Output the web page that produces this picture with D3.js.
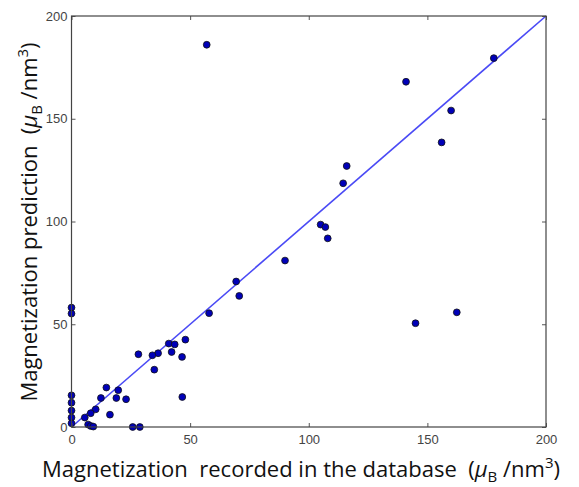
<!DOCTYPE html>
<html>
<head>
<meta charset="utf-8">
<script src="https://cdn.jsdelivr.net/npm/d3@7"></script>
<style>
  body { margin: 0; background: #fff; }
  svg { font-family: "Open Sans", "Liberation Sans", sans-serif; }
  .title { white-space: pre; }
</style>
</head>
<body>
<svg id="chart" width="579" height="487"></svg>
<script>
// 数据：数据库记录值 vs 预测值
const recorded = [
  57, 178, 141, 160, 156, 116, 114.5, 105, 107, 108, 90, 69.4, 70.7,
  58, 145, 162.4,
  48, 41, 43.5, 42.2, 46.6, 46.7, 36.5, 34.1, 34.9, 28.2,
  14.7, 19.7, 12.4, 18.9, 23, 16.2, 10.2, 8.1, 5.6, 7, 8.1, 9.2, 25.8, 28.8,
  0, 0, 0, 0, 0, 0, 0
];
const predicted = [
  186, 179.5, 168, 154, 138.5, 127, 118.6, 98.5, 97.3, 91.8, 81, 70.8, 63.8,
  55.4, 50.5, 55.8,
  42.5, 40.6, 40.2, 36.5, 34.1, 14.6, 35.9, 34.9, 27.9, 35.4,
  19.2, 17.9, 14.1, 14.1, 13.5, 6, 8.6, 6.7, 4.6, 1.2, 0.5, 0.2, 0, 0,
  58.1, 55.2, 15.4, 11.8, 8, 4.6, 1.8
];
const xTicks = [0, 50, 100, 150, 200];
const yTicks = [0, 50, 100, 150, 200];

const svg = d3.select("#chart");
const pLeft = 71.5, pRight = 546, pTop = 16, pBottom = 427;

const x = d3.scaleLinear().domain([0, 200]).range([pLeft, pRight]);
const y = d3.scaleLinear().domain([0, 200]).range([pBottom, pTop]);

// 对角线 y = x
svg.append("line")
  .attr("x1", x(0)).attr("y1", y(0))
  .attr("x2", x(200)).attr("y2", y(200))
  .attr("stroke", "#4a4af5")
  .attr("stroke-width", 1.6);

// 散点
svg.append("g")
  .selectAll("circle")
  .data(recorded.map((v, i) => [v, predicted[i]]))
  .join("circle")
  .attr("cx", d => x(d[0]))
  .attr("cy", d => y(d[1]))
  .attr("r", 3.4)
  .attr("fill", "#0000b8")
  .attr("stroke", "#111")
  .attr("stroke-width", 0.8);

// 坐标轴（刻度朝内，四边都有）
const tickStyle = g => {
  g.select(".domain").remove();
  g.selectAll(".tick line").attr("stroke", "#555");
  g.selectAll(".tick text").attr("fill", "#444").attr("font-size", 13);
};
svg.append("g").attr("transform", `translate(0,${pBottom})`)
  .call(d3.axisBottom(x).tickValues(xTicks).tickSize(-4).tickPadding(8))
  .call(tickStyle);
svg.append("g").attr("transform", `translate(0,${pTop})`)
  .call(d3.axisTop(x).tickValues(xTicks).tickSize(-4).tickFormat(""))
  .call(tickStyle);
svg.append("g").attr("transform", `translate(${pLeft},0)`)
  .call(d3.axisLeft(y).tickValues(yTicks).tickSize(-4).tickPadding(4))
  .call(tickStyle);
svg.append("g").attr("transform", `translate(${pRight},0)`)
  .call(d3.axisRight(y).tickValues(yTicks).tickSize(-4).tickFormat(""))
  .call(tickStyle);

// 边框
svg.append("rect")
  .attr("x", pLeft).attr("y", pTop)
  .attr("width", pRight - pLeft).attr("height", pBottom - pTop)
  .attr("fill", "none")
  .attr("stroke", "#444")
  .attr("stroke-width", 1.2);

// 轴标题
function unitLabel(t, text) {
  t.append("tspan").text(text + "  (");
  t.append("tspan").attr("font-style", "italic").text("μ");
  t.append("tspan").attr("font-size", 15).attr("dy", 5).text("B");
  t.append("tspan").attr("dy", -5).text(" /nm");
  t.append("tspan").attr("font-size", 15).attr("dy", -9).text("3");
  t.append("tspan").attr("dy", 9).text(")");
}
const xl = svg.append("text")
  .attr("class", "title")
  .attr("x", 301).attr("y", 477)
  .attr("text-anchor", "middle")
  .attr("font-size", 22)
  .attr("fill", "#111");
unitLabel(xl, "Magnetization  recorded in the database");

const yl = svg.append("text")
  .attr("class", "title")
  .attr("transform", "translate(37,222) rotate(-90)")
  .attr("text-anchor", "middle")
  .attr("font-size", 22)
  .attr("fill", "#111");
unitLabel(yl, "Magnetization prediction");
</script>
</body>
</html>
